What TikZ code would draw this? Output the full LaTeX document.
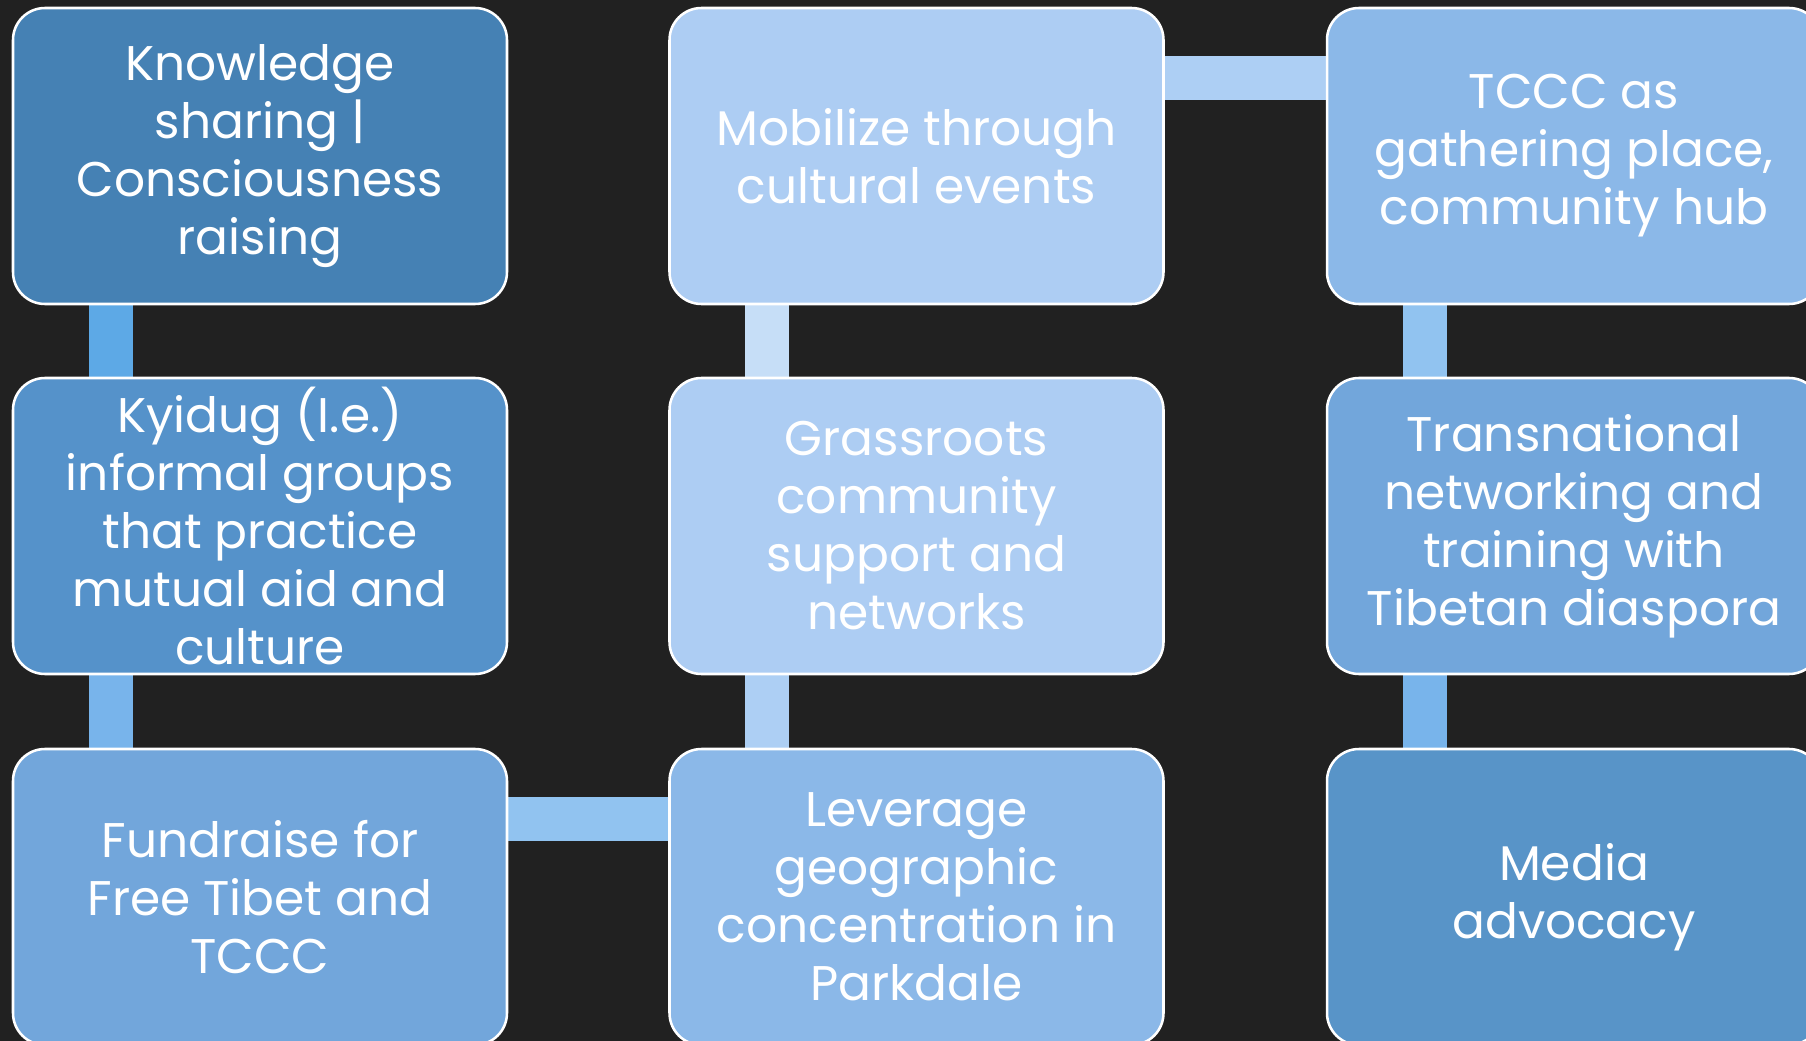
\documentclass[tikz,border=0pt]{standalone}
\usepackage{fontspec}
\setmainfont{Poppins}
\usetikzlibrary{backgrounds}

\definecolor{bgdark}{RGB}{33,33,33}
\definecolor{boxA}{RGB}{69,129,180}
\definecolor{boxB}{RGB}{85,146,202}
\definecolor{boxC}{RGB}{114,166,219}
\definecolor{boxD}{RGB}{139,184,232}
\definecolor{boxE}{RGB}{173,205,243}
\definecolor{boxF}{RGB}{88,148,200}
\definecolor{linkA}{RGB}{93,169,230}
\definecolor{linkB}{RGB}{120,180,235}
\definecolor{linkC}{RGB}{145,195,240}
\definecolor{linkD}{RGB}{173,207,244}
\definecolor{linkE}{RGB}{198,222,247}

\tikzset{
  stepbox/.style={draw=white, line width=1.9pt, rounded corners=24pt,
    minimum width=370.5pt, minimum height=222pt, text=white, align=center,
    font=\fontsize{36.5}{43.5}\selectfont, inner sep=0pt},
  link/.style={line width=33pt}
}

\begin{document}
\begin{tikzpicture}[x=0.75pt,y=0.75pt,yscale=-1,xscale=1]
\useasboundingbox (0,0) rectangle (1806,1041);
\clip (0,0) rectangle (1806,1041);

% Boxes
\node [stepbox, fill=boxA] (know) at (260,156) {Knowledge\\sharing |\\Consciousness\\raising};
\node [stepbox, fill=boxB] (kyidug) at (260,526) {Kyidug (I.e.)\\informal groups\\that practice\\mutual aid and\\culture};
\node [stepbox, fill=boxC] (fund) at (260,897) {Fundraise for\\Free Tibet and\\TCCC};
\node [stepbox, fill=boxD] (lever) at (916.5,897) {Leverage\\geographic\\concentration in\\Parkdale};
\node [stepbox, fill=boxE] (grass) at (916.5,526) {Grassroots\\community\\support and\\networks};
\node [stepbox, fill=boxE] (mobil) at (916.5,156) {Mobilize through\\cultural events};
\node [stepbox, fill=boxD] (hub) at (1574,156) {TCCC as\\gathering place,\\community hub};
\node [stepbox, fill=boxC] (trans) at (1574,526) {Transnational\\networking and\\training with\\Tibetan diaspora};
\node [stepbox, fill=boxF] (media) at (1574,897) {Media\\advocacy};

% Connectors
\begin{scope}[on background layer]
\fill [bgdark] (0,0) rectangle (1806,1041);
\draw [link, linkA] ([xshift=74.25pt]know.south west) -- ([xshift=74.25pt]kyidug.north west);
\draw [link, linkB] ([xshift=74.25pt]kyidug.south west) -- ([xshift=74.25pt]fund.north west);
\draw [link, linkC] ([yshift=53.25pt]fund.north east) -- ([yshift=53.25pt]lever.north west);
\draw [link, linkD] ([xshift=74.25pt]lever.north west) -- ([xshift=74.25pt]grass.south west);
\draw [link, linkE] ([xshift=74.25pt]grass.north west) -- ([xshift=74.25pt]mobil.south west);
\draw [link, linkD] ([yshift=53.25pt]mobil.north east) -- ([yshift=53.25pt]hub.north west);
\draw [link, linkC] ([xshift=74.25pt]hub.south west) -- ([xshift=74.25pt]trans.north west);
\draw [link, linkB] ([xshift=74.25pt]trans.south west) -- ([xshift=74.25pt]media.north west);
\end{scope}

\end{tikzpicture}
\end{document}
